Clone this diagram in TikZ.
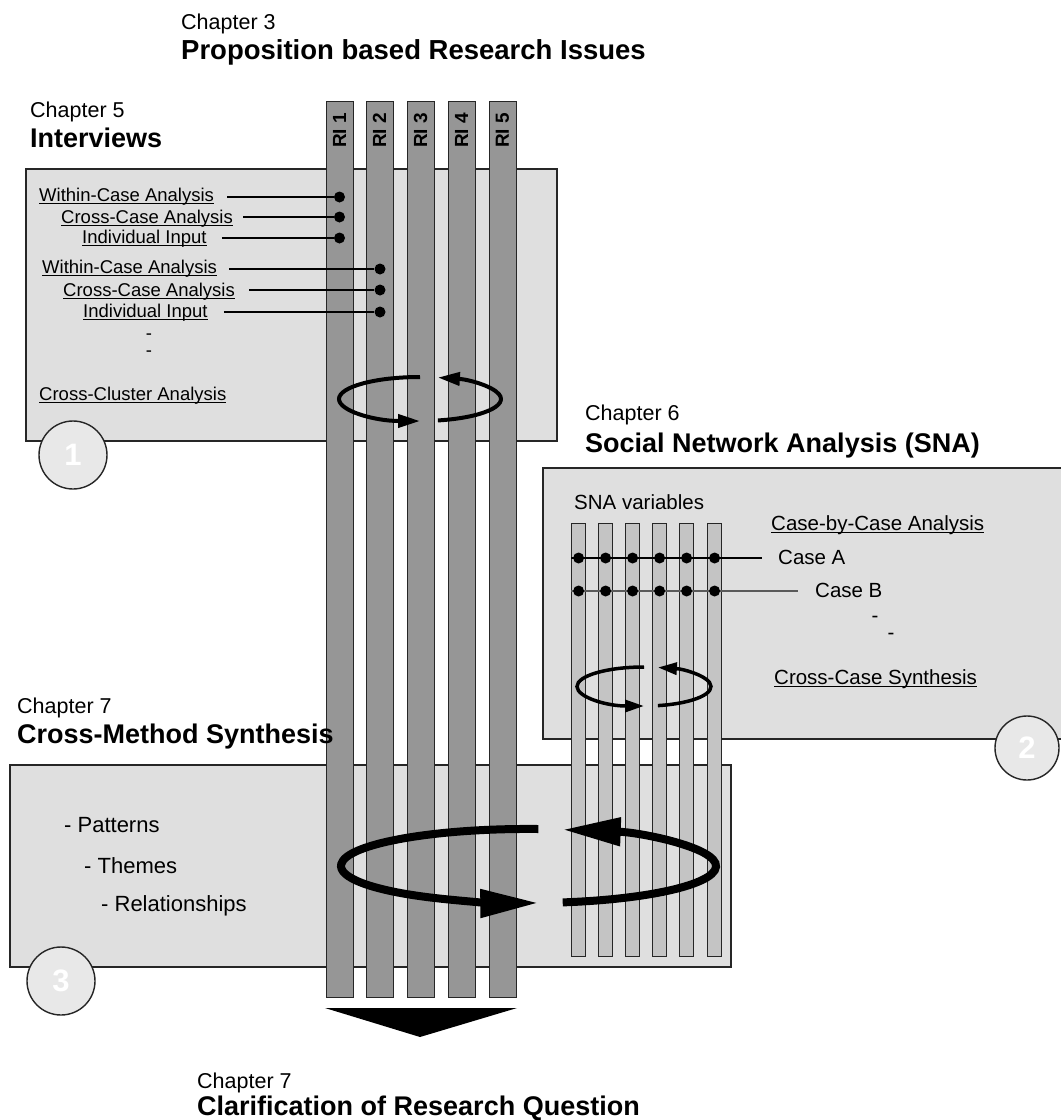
\documentclass[tikz,border=0pt]{standalone}
\usepackage{fontspec}
\setmainfont{Liberation Sans}
\usetikzlibrary{arrows.meta}

\definecolor{panelfill}{HTML}{DFDFDF}
\definecolor{barfill}{HTML}{969696}
\definecolor{subbarfill}{HTML}{C4C4C4}
\definecolor{edge}{HTML}{262626}
\definecolor{discfill}{HTML}{E8E8E8}
\definecolor{caseb}{HTML}{5A5A5A}

% underline drawn just below the baseline
\newcommand\ulin[1]{\setbox0\hbox{#1}\rlap{\rule[-2.6pt]{\wd0}{1.1pt}}\box0}

\tikzset{
  panel/.style={draw=edge, fill=panelfill, line width=1.4pt},
  ribar/.style={draw=edge, fill=barfill, line width=1.4pt, minimum width=27pt,
    minimum height=896pt, anchor=north west, inner sep=0pt},
  snabar/.style={draw=edge, fill=subbarfill, line width=1.2pt, minimum width=14pt,
    minimum height=433pt, anchor=north west, inner sep=0pt},
  rilbl/.style={rotate=90, inner sep=0pt, font=\bfseries\fontsize{19}{21}\selectfont},
  disc/.style={circle, draw=edge, fill=discfill, line width=1.4pt, inner sep=0pt,
    text=white, font=\bfseries\fontsize{31}{31}\selectfont},
  chap/.style={anchor=base west, inner sep=0pt, font=\fontsize{21.5}{24}\selectfont},
  ttl/.style={anchor=base west, inner sep=0pt, font=\bfseries\fontsize{27}{30}\selectfont},
  lbl/.style={anchor=base west, inner sep=0pt, font=\fontsize{18.5}{21}\selectfont},
  snal/.style={anchor=base west, inner sep=0pt, font=\fontsize{20.5}{23}\selectfont},
  lst/.style={anchor=base west, inner sep=0pt, font=\fontsize{22}{25}\selectfont},
  hyph/.style={inner sep=0pt},
  dotm/.style={circle, fill=black, inner sep=0pt, minimum size=11pt},
  link/.style={line width=1.5pt},
  turn/.style={line width=4pt, -{Triangle[length=22pt,width=13pt]}},
  bigturn/.style={line width=8pt, -{Triangle[length=58pt,width=27pt]}},
}

\begin{document}
\begin{tikzpicture}[x=1pt, y=-1pt]
\useasboundingbox (0,0) rectangle (1061,1120);
\fill[white] (0,0) rectangle (1061,1120);

% the three method panels
\draw[panel] (26,169) rectangle (557,441);
\draw[panel] (543,468) rectangle (1075,739);
\draw[panel] (10,765) rectangle (731,967);

% numbered discs
\node[disc, minimum size=68pt] (disc1) at (73,455) {1};
\node[disc, minimum size=64pt] (disc2) at (1027,748) {2};
\node[disc, minimum size=68pt] (disc3) at (61,981) {3};

% research issue columns
\foreach \i/\x in {1/326, 2/366, 3/407, 4/448, 5/489}{
  \node[ribar] (ri\i) at (\x,101) {};
  \node[rilbl] (rit\i) at (\x+13.5,130.5) {RI \i};
}

% SNA variable columns
\foreach \i/\x in {0/571, 1/598, 2/625, 3/652, 4/679, 5/707}{
  \node[snabar] (v\i) at (\x,523) {};
}

% bottom arrow
\fill (325,1008) -- (517,1008) -- (420,1037) -- cycle;

% headings
\node[chap] (ch3) at (181,29) {Chapter 3};
\node[ttl, font=\bfseries\fontsize{27.5}{30}\selectfont] (t3) at (181,59) {Proposition based Research Issues};
\node[chap] (ch5) at (30,117) {Chapter 5};
\node[ttl] (t5) at (30,147) {Interviews};
\node[chap] (ch6) at (585,420) {Chapter 6};
\node[ttl] (t6) at (585,452) {Social Network Analysis (SNA)};
\node[chap] (ch7a) at (17,713) {Chapter 7};
\node[ttl] (t7a) at (17,743) {Cross-Method Synthesis};
\node[chap] (ch7b) at (197,1088) {Chapter 7};
\node[ttl] (t7b) at (197,1115) {Clarification of Research Question};

% interview panel entries
\node[lbl] (w1) at (39,201) {\ulin{Within-Case Analysis}};
\node[lbl] (c1) at (61,223) {\ulin{Cross-Case Analysis}};
\node[lbl] (n1) at (82,243) {\ulin{Individual Input}};
\node[lbl] (w2) at (42,273) {\ulin{Within-Case Analysis}};
\node[lbl] (c2) at (63,296) {\ulin{Cross-Case Analysis}};
\node[lbl] (n2) at (83,317) {\ulin{Individual Input}};
\node[hyph, align=center, font=\fontsize{18.5}{16.5}\selectfont] (h1) at (149,345) {-\\-};
\node[lbl] (cc) at (39,400) {\ulin{Cross-Cluster Analysis}};

\node[dotm] (dw1) at (339.5,197) {};
\node[dotm] (dc1) at (339.5,217) {};
\node[dotm] (dn1) at (339.5,238) {};
\node[dotm] (dw2) at (380,269) {};
\node[dotm] (dc2) at (380,290) {};
\node[dotm] (dn2) at (380,312) {};

\draw[link] ([xshift=13pt]w1.east |- dw1) -- (dw1);
\draw[link] ([xshift=10pt]c1.east |- dc1) -- (dc1);
\draw[link] ([xshift=15pt]n1.east |- dn1) -- (dn1);
\draw[link] ([xshift=12pt]w2.east |- dw2) -- (dw2);
\draw[link] ([xshift=14pt]c2.east |- dc2) -- (dc2);
\draw[link] ([xshift=16pt]n2.east |- dn2) -- (dn2);

% SNA panel entries
\node[snal] (snav) at (574,509) {SNA variables};
\node[snal] (cbc) at (771,530) {\ulin{Case-by-Case Analysis}};
\node[snal] (casea) at (778,564) {Case A};
\node[snal] (caseb) at (815,597) {Case B};
\node[hyph, font=\fontsize{20.5}{23}\selectfont] (h3) at (875,619) {-};
\node[hyph, font=\fontsize{20.5}{23}\selectfont] (h4) at (891,636) {-};
\node[snal] (ccs) at (774,684) {\ulin{Cross-Case Synthesis}};

\coordinate (lineA) at (571,558);
\coordinate (lineB) at (571,591);
\draw[link] (lineA) -- ([xshift=-16pt]casea.west |- lineA);
\draw[link, draw=caseb] (lineB) -- ([xshift=-17pt]caseb.west |- lineB);
\foreach \i in {0,...,5}{
  \node[dotm] (pa\i) at (v\i.north |- lineA) {};
  \node[dotm] (pb\i) at (v\i.north |- lineB) {};
}

% synthesis panel entries
\node[lst] (pat) at (64,832) {- Patterns};
\node[lst] (thm) at (84,873) {- Themes};
\node[lst] (rel) at (101,911) {- Relationships};

% iteration loops
\draw[turn] (420,377) arc[start angle=270, end angle=90, x radius=81, y radius=22];
\draw[turn] (437.9,420.45) arc[start angle=77.2, end angle=-77.2, x radius=81, y radius=22];

\draw[turn, line width=3.5pt, -{Triangle[length=19pt,width=12pt]}]
  (644,667) arc[start angle=270, end angle=90, x radius=67, y radius=19.5];
\draw[turn, line width=3.5pt, -{Triangle[length=19pt,width=12pt]}]
  (657.9,705.6) arc[start angle=78, end angle=-78, x radius=67, y radius=19.5];

\draw[bigturn] (538.3,829) arc[start angle=273, end angle=87, x radius=187.5, y radius=37];
\draw[bigturn] (562.7,902.4) arc[start angle=79.5, end angle=-79.5, x radius=187.5, y radius=37];
\end{tikzpicture}
\end{document}
